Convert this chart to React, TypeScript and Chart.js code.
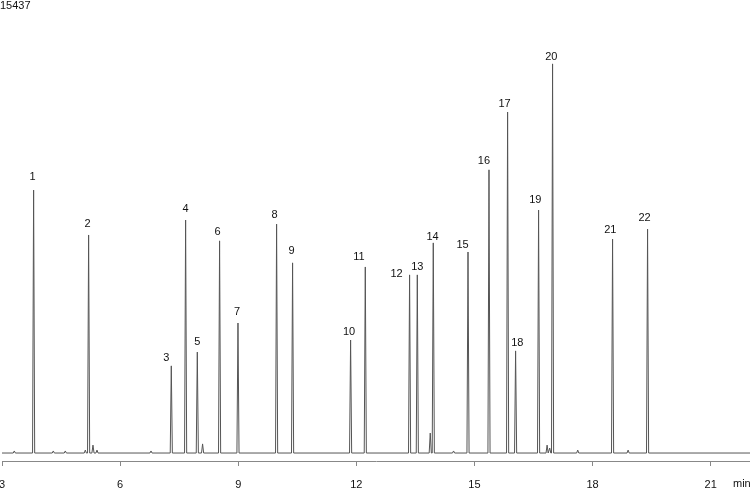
import React, { useEffect, useRef } from "react";
import { Chart, registerables } from "chart.js";

Chart.register(...registerables);

// Retention times (min) of numbered peaks
const peakTimes = [
  3.803, 5.2, 7.3, 7.664, 7.961, 8.527, 8.994, 9.975, 10.381, 11.855, 12.228,
  13.353, 13.549, 13.955, 14.837, 15.37, 15.843, 16.046, 16.63, 16.985, 18.509, 19.398,
];
// Peak apex heights (counts)
const peakHeights = [
  8960, 7430, 2970, 7940, 3440, 7230, 4430, 7800, 6480, 3850, 6340,
  6070, 6070, 7160, 6850, 9650, 11620, 3480, 8280, 13260, 7290, 7630,
];
const peakLabels = [
  "1", "2", "3", "4", "5", "6", "7", "8", "9", "10", "11",
  "12", "13", "14", "15", "16", "17", "18", "19", "20", "21", "22",
];
// Small unlabelled baseline peaks
const minorTimes = [3.312, 4.303, 4.608, 5.116, 5.311, 5.413, 6.785, 8.095, 13.878, 14.47, 16.846, 16.913, 17.624, 18.904];
const minorHeights = [70, 70, 70, 100, 270, 100, 70, 310, 680, 70, 270, 170, 100, 100];

const xTicks = [3, 6, 9, 12, 15, 18, 21];
const yMaxLabel = "15437";
const xMin = 3;
const xMax = 22.0;
const yMax = 15437;
const yMin = -272;

// label nudges (px) relative to apex
const labelDx = [-1, -1, -5, 0, 0, -2, -1, -2, -1, -1.6, -6.3, -13, 0, -0.7, -5.4, -5, -3, 1.7, -3.3, -1.3, -2.3, -3];
const labelDy = [-13.3, -11, -7.7, -10.7, -10.3, -9, -10.7, -9, -11.7, -7.7, -10, -1, -8.3, -6, -7.4, -9.3, -8.4, -8.3, -10, -6.7, -9, -11.3];

const halfWidth = 0.027;

function buildTrace() {
  const peaks: { t: number; h: number; w: number }[] = [];
  peakTimes.forEach((t, i) => peaks.push({ t, h: peakHeights[i], w: halfWidth }));
  minorTimes.forEach((t, i) => peaks.push({ t, h: minorHeights[i], w: halfWidth }));
  peaks.sort((a, b) => a.t - b.t);
  const pts: { x: number; y: number }[] = [{ x: xMin, y: 0 }];
  peaks.forEach((p) => {
    pts.push({ x: p.t - p.w, y: 0 });
    pts.push({ x: p.t, y: p.h });
    pts.push({ x: p.t + p.w, y: 0 });
  });
  pts.push({ x: xMax, y: 0 });
  return pts;
}

const FONT = "'Liberation Sans', Arial, Helvetica, sans-serif";

export default function App() {
  const ref = useRef<HTMLCanvasElement | null>(null);
  useEffect(() => {
    if (!ref.current) return;
    const labelsPlugin = {
      id: "peakLabels",
      afterDatasetsDraw(chart: any) {
        const { ctx, scales } = chart;
        const xs = scales.x;
        const ys = scales.y;
        ctx.save();
        ctx.fillStyle = "#111";
        ctx.font = `11px ${FONT}`;
        ctx.textAlign = "center";
        ctx.textBaseline = "middle";
        peakTimes.forEach((t, i) => {
          const px = xs.getPixelForValue(t);
          const py = ys.getPixelForValue(peakHeights[i]);
          ctx.fillText(peakLabels[i], px + labelDx[i], py + labelDy[i]);
        });
        ctx.textAlign = "left";
        ctx.textBaseline = "alphabetic";
        ctx.fillText(yMaxLabel, 0, 9);
        ctx.fillText("min", 733, 487);
        ctx.restore();
      },
    };
    const chart = new Chart(ref.current, {
      type: "line",
      data: {
        datasets: [
          {
            data: buildTrace(),
            borderColor: "#555",
            borderWidth: 1,
            pointRadius: 0,
            fill: false,
            tension: 0,
          },
        ],
      },
      options: {
        animation: false,
        responsive: false,
        parsing: true,
        layout: { padding: { left: 2, right: 0, top: 0, bottom: 0 } },
        plugins: { legend: { display: false }, tooltip: { enabled: false }, title: { display: false } },
        scales: {
          x: {
            type: "linear",
            min: xMin,
            max: xMax,
            afterBuildTicks: (scale: any) => {
              scale.ticks = xTicks.map((v) => ({ value: v }));
            },
            afterFit: (scale: any) => {
              scale.height = 27;
              scale.paddingLeft = 0;
              scale.paddingRight = 0;
            },
            ticks: {
              color: "#111",
              font: { size: 11, family: FONT },
              padding: 12,
              maxRotation: 0,
              autoSkip: false,
            },
            grid: {
              display: true,
              drawOnChartArea: false,
              drawTicks: true,
              tickLength: 5,
              color: "#888",
            },
            border: { display: true, color: "#888", width: 1 },
          },
          y: {
            display: false,
            min: yMin,
            max: yMax,
          },
        },
      },
      plugins: [labelsPlugin],
    });
    return () => chart.destroy();
  }, []);
  return (
    <div style={{ position: "absolute", left: 0, top: 0, width: 750, height: 488, background: "#fff" }}>
      <canvas ref={ref} width={750} height={488} />
    </div>
  );
}
